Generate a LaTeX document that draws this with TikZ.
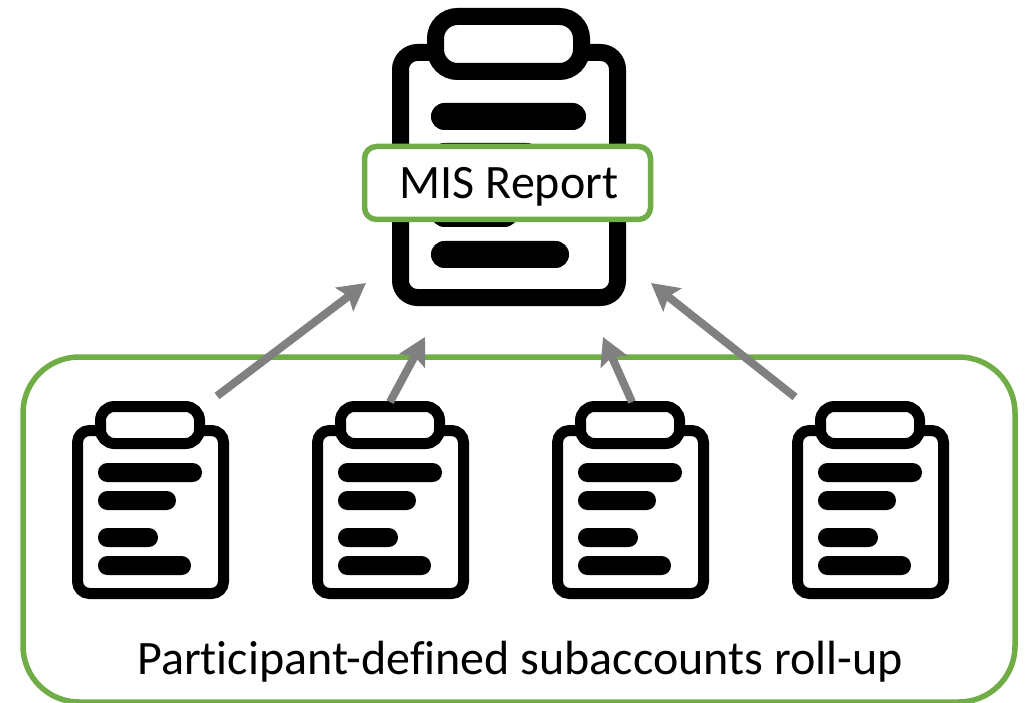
\documentclass[tikz,border=0pt]{standalone}
\usepackage{fontspec}
\setmainfont[Ligatures={NoRequired,NoCommon,NoContextual}]{Carlito}
\usetikzlibrary{arrows.meta}
\definecolor{boxgreen}{HTML}{70AD47}
\definecolor{arrowgrey}{HTML}{808080}
\tikzset{
  greenbox/.style={draw=boxgreen,fill=white,line width=5.5pt},
  bigline/.style={draw=black,line width=17pt},
  smallline/.style={draw=black,line width=11pt},
  barfill/.style={fill=black,draw=none},
  rollarrow/.style={draw=arrowgrey,line width=8pt,-{Stealth[length=27pt,width=29pt,inset=5pt]}},
  pics/smallclip/.style={code={
    \draw[smallline,rounded corners=12pt] (5.5,5.5) rectangle (151.5,168.5);
    \draw[smallline,fill=white,rounded corners=14pt] (28.5,-18.5) rectangle (127.5,18.5);
    \fill[barfill,rounded corners=9.4pt] (26,38) rectangle (130,57);
    \fill[barfill,rounded corners=9.4pt] (26,66) rectangle (104,85);
    \fill[barfill,rounded corners=9.4pt] (26,103) rectangle (86,122);
    \fill[barfill,rounded corners=9.4pt] (26,131) rectangle (119,150);
  }}
}
\begin{document}
\begin{tikzpicture}[x=1pt,y=-1pt]
\useasboundingbox (0,0) rectangle (1030,703);
% roll-up frame
\begin{scope}
\clip (0,0) rectangle (1030,703);
\draw[greenbox,rounded corners=56pt] (23,357) rectangle (1015,702);
\end{scope}
\node[font=\fontsize{48}{56}\selectfont,inner sep=0pt,anchor=base] (rolluplabel) at (520,674) {Participant-defined subaccounts roll-up};
% big clipboard
\draw[bigline,rounded corners=17pt] (400.5,52.5) rectangle (617.5,297.5);
\draw[bigline,fill=white,rounded corners=22pt] (435.5,16.5) rectangle (581.5,71.5);
\fill[barfill,rounded corners=13.4pt] (431,103) rectangle (586,130);
\fill[barfill,rounded corners=13.4pt] (431,143) rectangle (540,170);
\fill[barfill,rounded corners=13.4pt] (431,200) rectangle (518,227);
\fill[barfill,rounded corners=13.4pt] (431,241) rectangle (569,268);
\node[greenbox,rounded corners=12pt,minimum width=286pt,minimum height=73pt,inner sep=0pt] (mis) at (507.5,183) {};
\node[font=\fontsize{48}{56}\selectfont,inner sep=0pt,anchor=base] (mislabel) at (509,199) {MIS Report};
% small clipboards
\pic at (72,425) {smallclip};
\pic at (312,425) {smallclip};
\pic at (552,425) {smallclip};
\pic at (792,425) {smallclip};
% arrows
\coordinate (a1s) at (217,396); \coordinate (a1e) at (366,283);
\coordinate (a2s) at (390,402); \coordinate (a2e) at (425,337);
\coordinate (a3s) at (632,402); \coordinate (a3e) at (603,337);
\coordinate (a4s) at (795,397); \coordinate (a4e) at (651,283);
\draw[rollarrow] (a1s) -- (a1e);
\draw[rollarrow] (a2s) -- (a2e);
\draw[rollarrow] (a3s) -- (a3e);
\draw[rollarrow] (a4s) -- (a4e);
\end{tikzpicture}
\end{document}
